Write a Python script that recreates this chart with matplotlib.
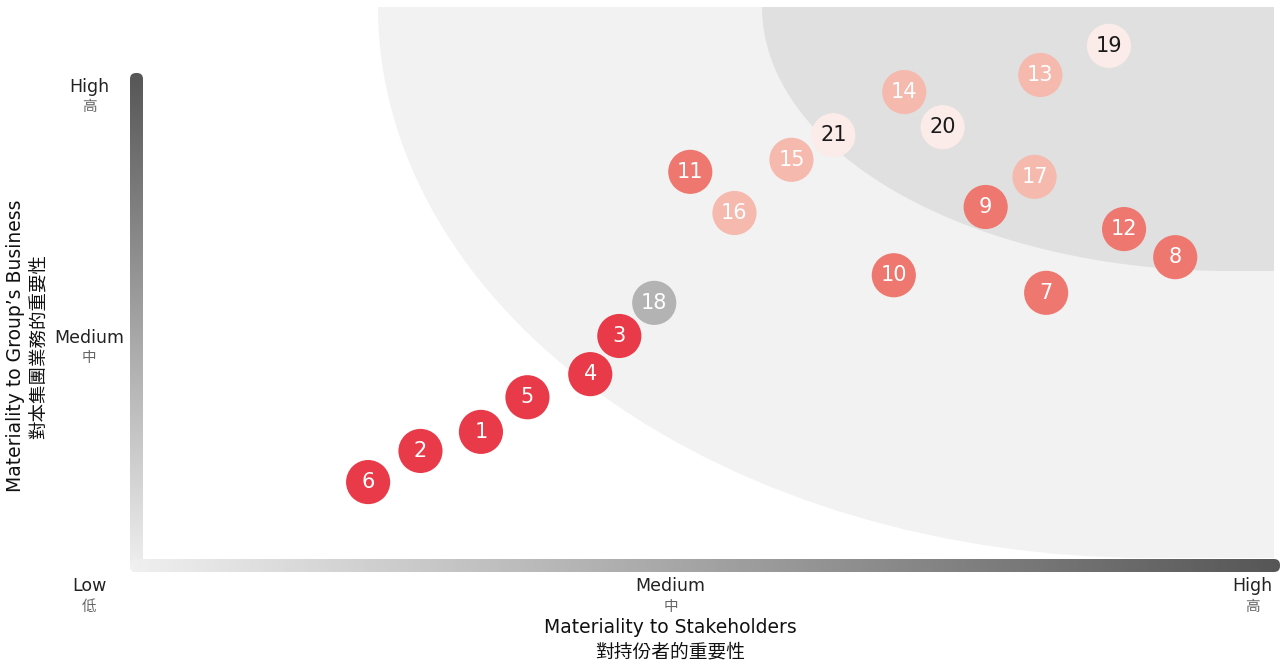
import matplotlib
matplotlib.use("Agg")
import matplotlib.pyplot as plt
import numpy as np
from matplotlib.patches import Ellipse, Rectangle, FancyBboxPatch

# issue scores: 0 = Low, 5 = Medium, 10 = High
issue_ids = ["1", "2", "3", "4", "5", "6", "7", "8", "9", "10", "11",
             "12", "13", "14", "15", "16", "17", "18", "19", "20", "21"]
stakeholder_score = [3.37, 2.85, 4.56, 4.31, 3.77, 2.40, 8.23, 9.34, 7.71, 6.92, 5.17,
                     8.90, 8.18, 7.01, 6.04, 5.55, 8.13, 4.86, 8.77, 7.34, 6.40]
business_score = [3.13, 2.75, 5.04, 4.28, 3.82, 2.13, 5.90, 6.61, 7.61, 6.25, 8.31,
                  7.17, 10.24, 9.90, 8.55, 7.49, 8.21, 5.70, 10.82, 9.20, 9.04]
issue_group = ["A", "A", "A", "A", "A", "A", "B", "B", "B", "B", "B",
               "B", "C", "C", "C", "C", "C", "D", "E", "E", "E"]

group_fill = {"A": "#e83a48", "B": "#ee776f", "C": "#f5b9ae", "D": "#b3b3b3", "E": "#fbece9"}
group_text = {"A": "white", "B": "white", "C": "white", "D": "white", "E": "#1a1a1a"}

level_names = ["Low", "Medium", "High"]
level_names_zh = ["低", "中", "高"]
level_pos = [0, 5, 10]

W, H = 1280, 665
CJK = "Noto Sans CJK TC"

fig = plt.figure(figsize=(W / 100, H / 100), dpi=100)

# decoration layer in pixel coordinates
bg = fig.add_axes([0, 0, 1, 1])
bg.set_xlim(0, W)
bg.set_ylim(H, 0)
bg.axis("off")

light_clip = Rectangle((378, 7), 1274 - 378, 558 - 7, transform=bg.transData)
e1 = Ellipse((1150, 7), 2 * 772, 2 * 551, color="#f2f2f2", lw=0)
bg.add_patch(e1)
e1.set_clip_path(light_clip)
bg.add_patch(Rectangle((1150, 7), 1274 - 1150, 558 - 7, color="#f2f2f2", lw=0))

dark_clip = Rectangle((762, 7), 1274 - 762, 558 - 7, transform=bg.transData)
e2 = Ellipse((1230, 7), 2 * 468, 2 * 264, color="#e0e0e0", lw=0)
bg.add_patch(e2)
e2.set_clip_path(dark_clip)
bg.add_patch(Rectangle((1230, 7), 1274 - 1230, 271 - 7, color="#e0e0e0", lw=0))

# gradient axis bars
cmap = matplotlib.colors.LinearSegmentedColormap.from_list("axis", ["#f0f0f0", "#565656"])
vbar = FancyBboxPatch((130 + 6, 73 + 6), 1, 572 - 73 - 12,
                      boxstyle="round,pad=6", transform=bg.transData, fc="none", ec="none")
bg.add_patch(vbar)
im = bg.imshow(np.linspace(1, 0, 256).reshape(-1, 1), cmap=cmap, aspect="auto",
               extent=(129, 144, 573, 72), zorder=2)
im.set_clip_path(vbar)
hbar = FancyBboxPatch((130 + 6, 559 + 6), 1280 - 130 - 12, 1,
                      boxstyle="round,pad=6", transform=bg.transData, fc="none", ec="none")
bg.add_patch(hbar)
im2 = bg.imshow(np.linspace(0, 1, 256).reshape(1, -1), cmap=cmap, aspect="auto",
                extent=(129, 1281, 573, 558), zorder=2)
im2.set_clip_path(hbar)
bg.set_xlim(0, W)
bg.set_ylim(H, 0)

# data layer
ax = fig.add_axes([0, 0, 1, 1])
ax.patch.set_alpha(0)
ax.set_xlim(-89 / 116.3, (W - 89) / 116.3)
ax.set_ylim((589 - H) / 50.2, 589 / 50.2)
ax.axis("off")

ax.scatter(stakeholder_score, business_score, s=1010,
           c=[group_fill[g] for g in issue_group], linewidths=0, zorder=3)
for lab, x, y, g in zip(issue_ids, stakeholder_score, business_score, issue_group):
    ax.text(x, y, lab, ha="center", va="center", fontsize=15,
            color=group_text[g], zorder=4)

# x axis levels
for name, zh, p in zip(level_names, level_names_zh, level_pos):
    ax.text(p, 0.05, name, ha="center", va="center", fontsize=12.5, color="#222222")
    ax.text(p, -0.36, zh, ha="center", va="center", fontsize=10.5, color="#666666", family=CJK)
# y axis levels (Low shared with x axis)
for name, zh, p in zip(level_names[1:], level_names_zh[1:], level_pos[1:]):
    ax.text(0, p, name, ha="center", va="center", fontsize=12.5, color="#222222")
    ax.text(0, p - 0.39, zh, ha="center", va="center", fontsize=10.5, color="#666666", family=CJK)

ax.text(5, -0.76, "Materiality to Stakeholders", ha="center", va="center",
        fontsize=13.5, color="#111111")
ax.text(5, -1.25, "對持份者的重要性", ha="center", va="center",
        fontsize=13.5, color="#111111", family=CJK)
ax.text(-0.63, 4.84, "Materiality to Group\u2019s Business", ha="center", va="center",
        rotation=90, fontsize=13.5, color="#111111")
ax.text(-0.42, 4.84, "對本集團業務的重要性", ha="center", va="center",
        rotation=90, fontsize=13.3, color="#111111", family=CJK)

fig.savefig("out.png", dpi=100)
